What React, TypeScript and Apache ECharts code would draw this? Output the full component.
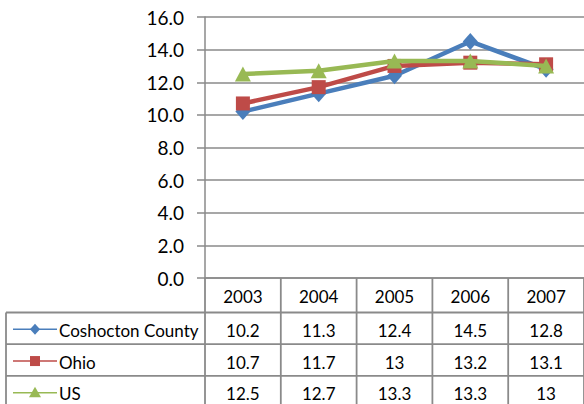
import React, { useEffect, useRef } from "react";
import * as echarts from "echarts";

const years = ["2003", "2004", "2005", "2006", "2007"];
const coshocton = [10.2, 11.3, 12.4, 14.5, 12.8];
const ohio = [10.7, 11.7, 13, 13.2, 13.1];
const us = [12.5, 12.7, 13.3, 13.3, 13];
const seriesNames = ["Coshocton County", "Ohio", "US"];
const seriesColors = ["#4A7EBB", "#BE4B48", "#98B954"];
const yMin = 0;
const yMax = 16;
const yStep = 2;

const FONT = "Lato, 'Noto Sans', sans-serif";
const GRID_COLOR = "#8a8a8a";

export default function App() {
  const ref = useRef<HTMLDivElement>(null);
  useEffect(() => {
    const chart = echarts.init(ref.current!, null, { renderer: "svg" });
    const values = [coshocton, ohio, us];
    const symbols = ["diamond", "rect", "triangle"];
    const symbolSizes: any[] = [[15, 17], 14, [16, 15]];
    chart.setOption({
      animation: false,
      grid: { left: 205, right: -6, top: 17, bottom: 126 },
      xAxis: {
        type: "category",
        data: years,
        boundaryGap: true,
        axisLine: { show: true, lineStyle: { color: GRID_COLOR, width: 1.5 } },
        axisTick: { show: false },
        axisLabel: { show: false },
        splitLine: { show: false },
      },
      yAxis: {
        type: "value",
        min: yMin,
        max: yMax,
        interval: yStep,
        axisLine: { show: true, lineStyle: { color: GRID_COLOR, width: 1.5 } },
        axisTick: { show: true, length: 8, lineStyle: { color: GRID_COLOR, width: 1.5 } },
        axisLabel: {
          fontFamily: FONT,
          fontSize: 19,
          color: "#000",
          margin: 21,
          formatter: (v: number) => v.toFixed(1),
        },
        splitLine: { show: true, lineStyle: { color: GRID_COLOR, width: 1.5 } },
      },
      series: values.map((d, i) => ({
        name: seriesNames[i],
        type: "line",
        data: d,
        symbol: symbols[i],
        symbolSize: symbolSizes[i],
        lineStyle: { color: seriesColors[i], width: 4.5 },
        itemStyle: { color: seriesColors[i] },
        z: 2 + i,
      })),
    });

    const centers = years.map((y) => chart.convertToPixel({ xAxisIndex: 0 }, y) as number);
    const bw = centers[1] - centers[0];
    const bounds = centers.map((c) => c - bw / 2).concat([centers[centers.length - 1] + bw / 2]);
    const y0 = chart.convertToPixel({ yAxisIndex: 0 }, 0) as number;
    const headerBottom = y0 + 34.5;
    const rowH = 31.7;
    const tableLeft = 6;
    const tableRight = bounds[bounds.length - 1];
    const bottom = 420;
    const lineStyle = { stroke: GRID_COLOR, lineWidth: 1.8 };
    const els: any[] = [];
    bounds.forEach((x) => {
      els.push({ type: "line", shape: { x1: x, y1: y0, x2: x, y2: bottom }, style: lineStyle, silent: true });
    });
    els.push({ type: "line", shape: { x1: tableLeft, y1: headerBottom, x2: tableLeft, y2: bottom }, style: lineStyle });
    for (let r = 0; r < 3; r++) {
      const yy = headerBottom + r * rowH;
      els.push({ type: "line", shape: { x1: tableLeft, y1: yy, x2: tableRight, y2: yy }, style: lineStyle });
    }
    const textStyle = (x: number, y: number, t: string, align = "center") => ({
      type: "text",
      x,
      y,
      style: { text: t, fontFamily: FONT, fontSize: 17, fill: "#000", align, verticalAlign: "middle" },
    });
    years.forEach((yr, i) => els.push(textStyle(centers[i], (y0 + headerBottom) / 2 + 1, yr)));
    values.forEach((d, r) => {
      const cy = headerBottom + r * rowH + rowH / 2 + 2;
      d.forEach((v, i) => els.push(textStyle(centers[i], cy, String(v))));
      els.push(textStyle(59, cy, seriesNames[r], "left"));
      const c = seriesColors[r];
      const my = cy - 1;
      els.push({ type: "line", shape: { x1: 13, y1: my, x2: 57, y2: my }, style: { stroke: c, lineWidth: 1.5 } });
      const mx = 35;
      if (r === 0) {
        els.push({ type: "polygon", shape: { points: [[mx, my - 5.5], [mx + 5, my], [mx, my + 5.5], [mx - 5, my]] }, style: { fill: c } });
      } else if (r === 1) {
        els.push({ type: "rect", shape: { x: mx - 5, y: my - 5, width: 10, height: 10 }, style: { fill: c } });
      } else {
        els.push({ type: "polygon", shape: { points: [[mx, my - 6], [mx + 6, my + 4.5], [mx - 6, my + 4.5]] }, style: { fill: c } });
      }
    });
    chart.setOption({ graphic: els });
    return () => chart.dispose();
  }, []);
  return (
    <div
      ref={ref}
      style={{ position: "fixed", left: 0, top: 0, width: 584, height: 404, background: "#fff" }}
    />
  );
}
